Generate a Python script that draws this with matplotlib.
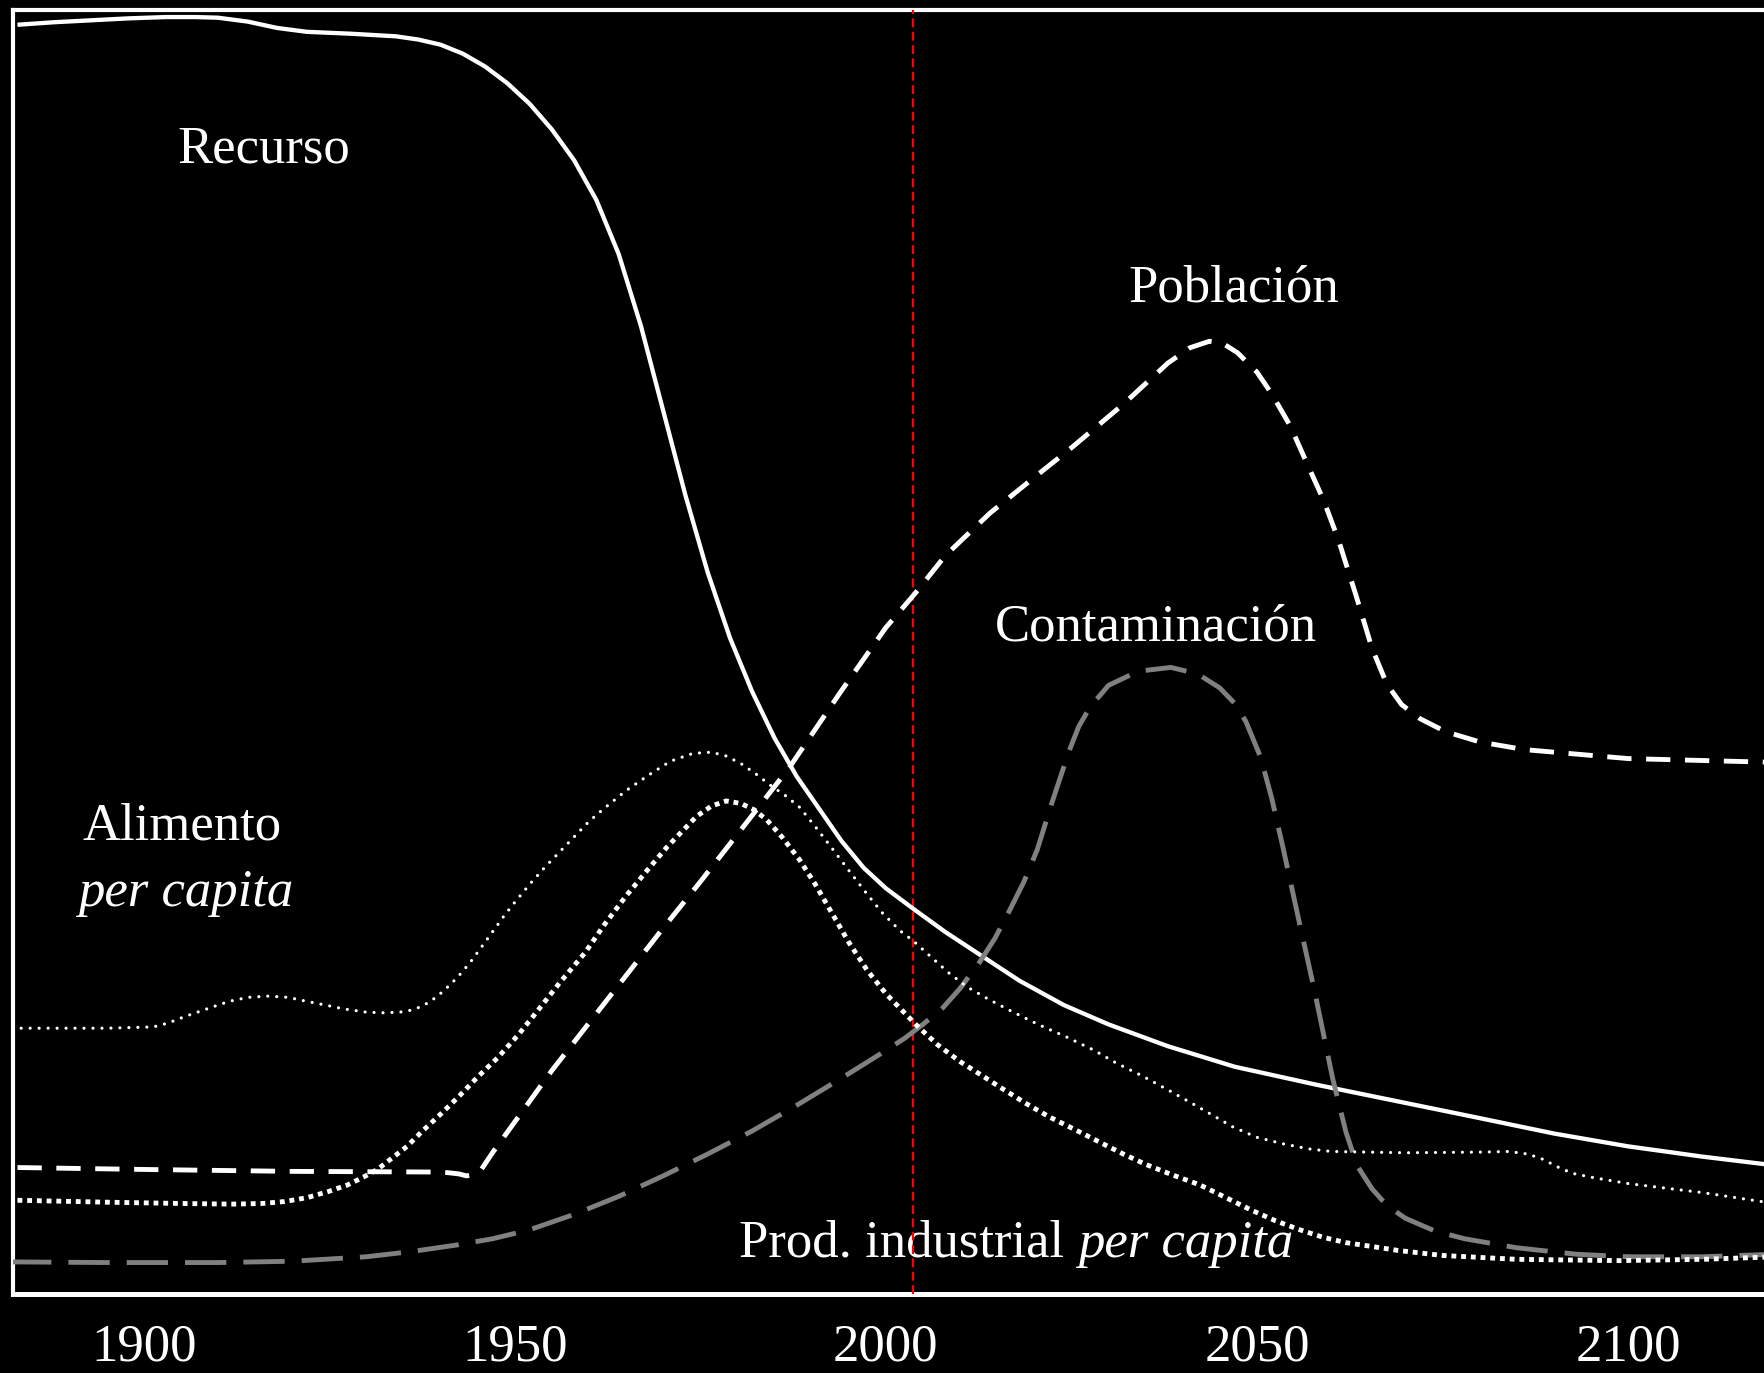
import matplotlib.pyplot as plt


FIG_WIDTH_PX = 1765
FIG_HEIGHT_PX = 1373
DPI = 100

FONT_FAMILY = ["Liberation Serif", "DejaVu Serif"]
FONT_SIZE = 38

# Recurso (solid line)
RESOURCE_YEARS = [1883, 1888, 1893, 1898, 1903, 1907, 1910, 1914, 1918, 1922,
                  1928, 1934, 1937, 1940, 1943, 1946, 1949, 1952, 1955, 1958,
                  1961, 1964, 1967, 1970, 1973, 1976, 1979, 1982, 1985, 1988,
                  1991, 1994, 1997, 2000, 2003.7, 2008, 2013, 2018, 2024, 2030,
                  2038, 2047, 2058, 2069, 2080, 2090, 2100, 2110, 2120]
RESOURCE_VALUES = [98.85, 99.05, 99.2, 99.35, 99.45, 99.45, 99.4, 99.1, 98.6,
                   98.3, 98.15, 97.95, 97.7, 97.3, 96.6, 95.6, 94.3, 92.7,
                   90.7, 88.3, 85.2, 81.0, 75.4, 68.8, 62.2, 56.2, 51.1, 46.9,
                   43.3, 40.3, 37.8, 35.3, 33.2, 31.6, 30.0, 28.2, 26.3, 24.4,
                   22.5, 21.0, 19.3, 17.7, 16.3, 15.0, 13.7, 12.5, 11.5, 10.7,
                   10.0]

# Población (white dashes)
POPULATION_YEARS = [1883, 1900, 1920, 1939, 1941, 1942.5, 1943.5, 1944.5, 1945.5,
                    1947, 1950, 1955, 1960, 1965, 1970, 1975, 1980, 1987,
                    1993.8, 2000, 2004, 2008, 2014, 2020, 2025, 2032, 2038,
                    2041, 2043.6, 2045.5, 2047.4, 2050, 2052, 2054.5, 2056.5,
                    2059, 2061, 2063.3, 2065.5, 2067.5, 2069.5, 2072, 2075.4,
                    2080, 2086, 2100, 2120]
POPULATION_VALUES = [9.85, 9.7, 9.55, 9.5, 9.45, 9.35, 9.2, 9.3, 9.7,
                     11.0, 13.4, 17.4, 21.1, 24.8, 28.5, 32.1, 35.8, 41.0,
                     46.8, 51.9, 54.6, 57.5, 60.8, 63.6, 65.9, 69.3, 72.5,
                     73.7, 74.2, 74.0, 73.3, 71.8, 70.1, 67.6, 65.0,
                     61.8, 58.7, 54.5, 50.3, 47.5, 45.9, 44.8, 43.8,
                     43.0, 42.4, 41.7, 41.4]

# Contaminación (grey long dashes)
POLLUTION_YEARS = [1882, 1895, 1910, 1920, 1930, 1936, 1942, 1947, 1952, 1958,
                   1964, 1970, 1976, 1982, 1988, 1994, 1999, 2002.5, 2005,
                   2007.7, 2010, 2012.7, 2014.7, 2016.7, 2018.6, 2020.4,
                   2022.4, 2024.7, 2026, 2027.5, 2030, 2034, 2038.4, 2042,
                   2045, 2047, 2048.5, 2050.5, 2052, 2053.5, 2055.5, 2057.8,
                   2060.2, 2062, 2063.5, 2065.5, 2067.5, 2070, 2074, 2078,
                   2085, 2093, 2100, 2110, 2120]
POLLUTION_VALUES = [2.5, 2.45, 2.45, 2.55, 2.9, 3.3, 3.8, 4.3, 5.0, 6.2,
                    7.6, 9.2, 10.9, 12.7, 14.7, 16.8, 18.6, 19.9, 21.0,
                    22.3, 23.8, 25.9, 27.7, 29.9, 32.1, 34.6,
                    38.3, 42.3, 44.2, 45.7, 47.4, 48.5, 48.8, 48.3,
                    47.2, 46.0, 44.6, 41.8, 38.6, 34.8, 29.5, 23.5,
                    16.8, 12.6, 10.0, 8.2, 6.9, 5.9, 4.9, 4.3,
                    3.6, 3.1, 2.9, 2.9, 3.1]

# Alimento per capita (thin dotted)
FOOD_YEARS = [1883.5, 1895, 1901.3, 1903.3, 1905.5, 1907.5, 1909.5, 1911.6,
              1914, 1916.8, 1919.5, 1921.9, 1924.5, 1927, 1930, 1932.3,
              1934.5, 1936, 1937.5, 1938.9, 1940.2, 1941.5, 1942.8, 1944.1,
              1945.5, 1947, 1948.5, 1950, 1952, 1954, 1956, 1958, 1960, 1962,
              1965, 1968, 1971, 1974, 1976.5, 1978.5, 1980.5, 1982.5, 1984.5,
              1986.5, 1988.4, 1990.5, 1992.9, 1995, 1997.4, 1999.5, 2001.9,
              2003.7, 2006, 2008.5, 2011, 2014, 2017, 2020.5, 2024.4, 2028,
              2031, 2034.5, 2038, 2042, 2046.8, 2050, 2053.5, 2057, 2060,
              2070, 2080, 2084, 2086.5, 2088.5, 2090.5, 2092.5, 2095, 2100,
              2110, 2118]
FOOD_VALUES = [20.7, 20.7, 20.8, 21.1, 21.6, 22.0, 22.4, 22.8,
               23.1, 23.2, 23.1, 22.8, 22.5, 22.2, 21.95, 21.9,
               21.95, 22.1, 22.4, 22.9, 23.5, 24.2, 25.0, 25.9,
               27.0, 28.2, 29.4, 30.5, 31.9, 33.2, 34.4, 35.6, 36.8, 37.8,
               39.2, 40.4, 41.5, 42.1, 42.2, 41.9, 41.3, 40.5, 39.6,
               38.8, 37.9, 36.4, 34.6, 33.0, 31.2, 29.7, 28.3,
               27.5, 26.3, 25.0, 23.9, 22.9, 22.0, 21.0, 20.0, 19.0,
               18.0, 17.0, 15.9, 14.6, 13.0, 12.2, 11.7, 11.3, 11.1,
               11.0, 11.05, 11.1, 10.9, 10.5, 9.9, 9.4, 9.1, 8.6,
               7.9, 7.2]

# Prod. industrial per capita (thick dotted)
INDUSTRY_YEARS = [1883, 1895, 1905, 1912, 1916, 1919, 1922, 1925, 1927.5,
                  1929.6, 1931.5, 1933.5, 1935.5, 1937.4, 1940, 1942.5, 1945,
                  1947.7, 1950.5, 1953, 1956, 1959.5, 1962, 1965, 1968, 1970.5,
                  1972.5, 1974.5, 1976.5, 1978.5, 1980.5, 1982.3, 1984, 1986,
                  1988.4, 1990.5, 1992.9, 1995, 1997.5, 2000, 2002, 2004.2,
                  2007, 2010, 2013, 2015.4, 2019, 2022, 2025.5, 2028.9, 2032,
                  2035, 2038.5, 2042.3, 2045.5, 2049, 2052.5, 2055.8, 2059,
                  2062, 2065.5, 2068.9, 2075, 2085, 2098.8, 2110, 2120]
INDUSTRY_VALUES = [7.3, 7.15, 7.05, 7.0, 7.05, 7.2, 7.5, 8.0, 8.5,
                   9.1, 9.7, 10.6, 11.5, 12.6, 14.0, 15.4, 16.9,
                   18.4, 20.2, 22.0, 24.2, 26.6, 28.7, 31.0, 33.1, 34.8,
                   36.0, 37.2, 38.0, 38.4, 38.2, 37.7, 36.9, 35.6,
                   33.8, 31.9, 29.5, 27.4, 25.2, 23.4, 22.2, 20.9,
                   19.4, 18.1, 17.0, 16.1, 14.8, 13.8, 12.8, 11.8, 10.9,
                   10.1, 9.3, 8.5, 7.6, 6.6, 5.7, 5.0, 4.4,
                   4.0, 3.7, 3.4, 3.0, 2.7, 2.6, 2.7, 2.9]

TICK_YEARS = [1900, 1950, 2000, 2050, 2100]
MARKER_YEAR = 2003.7

X_LIMITS = (1882.4, 2121.15)
Y_LIMITS = (0, 100)

GREY = "#808080"


def style_axis(axis):
    axis.set_facecolor("black")
    axis.set_xlim(*X_LIMITS)
    axis.set_ylim(*Y_LIMITS)

    for side in ["left", "top"]:
        axis.spines[side].set_color("white")
        axis.spines[side].set_linewidth(3)
    axis.spines["bottom"].set_color("white")
    axis.spines["bottom"].set_linewidth(3.6)
    axis.spines["right"].set_visible(False)

    axis.set_xticks(TICK_YEARS)
    axis.set_xticklabels([str(year) for year in TICK_YEARS])
    axis.set_yticks([])
    axis.tick_params(axis="x", length=0, pad=21.5, labelsize=FONT_SIZE,
                     labelcolor="white")


def plot_series(axis):
    common = dict(zorder=4, solid_joinstyle="round", dash_joinstyle="round")

    axis.plot(RESOURCE_YEARS, RESOURCE_VALUES, color="white", linewidth=3.1,
              solid_capstyle="butt", **common)

    axis.plot(POPULATION_YEARS, POPULATION_VALUES, color="white",
              linewidth=3.5, linestyle=(0, (5, 3)), dash_capstyle="butt",
              **common)

    axis.plot(POLLUTION_YEARS, POLLUTION_VALUES, color=GREY, linewidth=3.5,
              linestyle=(0, (8.5, 3.5)), dash_capstyle="butt", **common)

    axis.plot(FOOD_YEARS, FOOD_VALUES, color="white", linewidth=2.3,
              linestyle=(0, (0.01, 2.8)), dash_capstyle="round", **common)

    axis.plot(INDUSTRY_YEARS, INDUSTRY_VALUES, color="white", linewidth=3.5,
              linestyle=(0, (1, 1)), dash_capstyle="butt", **common)

    axis.axvline(MARKER_YEAR, color="#ff0000", linewidth=1.6,
                 linestyle=(0, (4, 2)), zorder=3.5)


def add_labels(axis):
    text_style = dict(color="white", fontsize=FONT_SIZE, ha="left",
                      va="baseline", zorder=3)

    axis.text(1904.6, 88.1, "Recurso", **text_style)
    axis.text(2032.7, 77.3, "Población", **text_style)
    axis.text(2014.7, 50.9, "Contaminación", **text_style)
    axis.text(1891.8, 35.4, "Alimento", **text_style)
    axis.text(1891.2, 30.2, "per capita", style="italic", **text_style)

    industry_label = axis.text(1980.2, 2.9, "Prod. industrial", **text_style)
    axis.annotate("per capita", xy=(1, 0), xycoords=industry_label,
                  xytext=(10, 0), textcoords="offset points",
                  color="white", fontsize=FONT_SIZE, style="italic",
                  ha="left", va="bottom", zorder=3)


def main():
    plt.rcParams["font.family"] = FONT_FAMILY

    figure = plt.figure(figsize=(FIG_WIDTH_PX / DPI, FIG_HEIGHT_PX / DPI),
                        dpi=DPI, facecolor="black")
    axis = figure.add_axes([13 / FIG_WIDTH_PX, 79 / FIG_HEIGHT_PX,
                            1772 / FIG_WIDTH_PX, 1284 / FIG_HEIGHT_PX])

    style_axis(axis)
    plot_series(axis)
    add_labels(axis)

    figure.savefig("out.png", dpi=DPI, facecolor="black")
    plt.close(figure)


if __name__ == "__main__":
    main()
